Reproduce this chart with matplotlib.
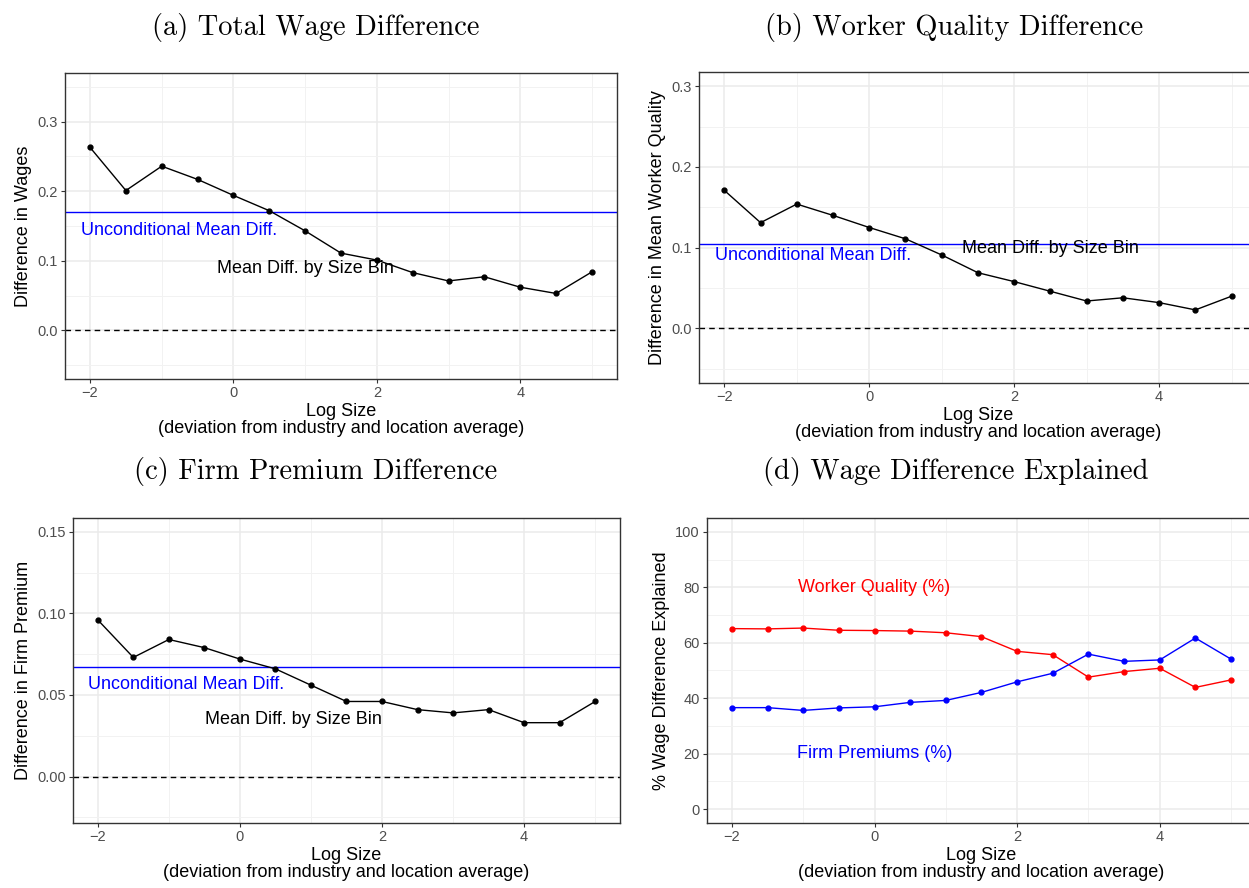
import matplotlib
matplotlib.use("Agg")
import matplotlib.pyplot as plt

plt.rcParams['font.family'] = ['Liberation Sans', 'DejaVu Sans']

# log size bins
log_size = [-2, -1.5, -1, -0.5, 0, 0.5, 1, 1.5, 2, 2.5, 3, 3.5, 4, 4.5, 5]

# (a) total wage difference
wage_diff = [0.263, 0.201, 0.236, 0.217, 0.194, 0.172, 0.143, 0.111, 0.101,
             0.083, 0.071, 0.077, 0.062, 0.053, 0.084]
wage_uncond = 0.170

# (b) worker quality difference
quality_diff = [0.171, 0.131, 0.154, 0.140, 0.125, 0.111, 0.091, 0.069, 0.058,
                0.046, 0.034, 0.038, 0.032, 0.023, 0.040]
quality_uncond = 0.105

# (c) firm premium difference
premium_diff = [0.096, 0.073, 0.084, 0.079, 0.072, 0.066, 0.056, 0.046, 0.046,
                0.041, 0.039, 0.041, 0.033, 0.033, 0.046]
premium_uncond = 0.067

# (d) share of wage difference explained
quality_pct = [65.1, 65.0, 65.3, 64.5, 64.4, 64.2, 63.6, 62.2, 56.9, 55.7,
               47.6, 49.6, 50.8, 43.9, 46.6]
premium_pct = [36.6, 36.6, 35.6, 36.5, 36.9, 38.5, 39.2, 42.1, 45.9, 49.0,
               55.9, 53.3, 53.8, 61.7, 54.1]

xlabel = "Log Size\n(deviation from industry and location average)"
title_font = dict(family='cmr10', fontsize=20.5)

fig = plt.figure(figsize=(12.49, 8.88), dpi=100)


def style_axes(ax, ylim, yticks, yminor, ytick_fmt):
    ax.set_xlim(-2.35, 5.35)
    ax.set_ylim(*ylim)
    ax.set_xticks([-2, 0, 2, 4])
    ax.set_xticks([-1, 1, 3, 5], minor=True)
    ax.set_yticks(yticks)
    ax.set_yticklabels([ytick_fmt.format(v) for v in yticks])
    ax.set_yticks(yminor, minor=True)
    ax.grid(which='major', color='#EBEBEB', linewidth=1.1, zorder=0)
    ax.grid(which='minor', color='#F2F2F2', linewidth=0.7, zorder=0)
    ax.set_axisbelow(True)
    for s in ax.spines.values():
        s.set_color('#333333')
        s.set_linewidth(1.0)
    ax.tick_params(which='major', length=3, width=0.8, color='#333333',
                   labelcolor='#4D4D4D', labelsize=10.5, pad=2)
    ax.tick_params(which='minor', length=0)
    ax.set_xlabel(xlabel, fontsize=13, linespacing=1.05, labelpad=2)


def diff_panel(rect, title_xy, title, y, uncond, ylabel, ylim, yticks, yminor,
               fmt, uncond_txt, bin_txt):
    ax = fig.add_axes(rect)
    style_axes(ax, ylim, yticks, yminor, fmt)
    ax.axhline(0, color='black', linestyle=(0, (4, 3)), linewidth=1.0)
    ax.axhline(uncond, color='blue', linewidth=1.0)
    ax.plot(log_size, y, color='black', linewidth=1.0, marker='o',
            markersize=3.5, zorder=3)
    ax.text(*uncond_txt, "Unconditional Mean Diff.", color='blue',
            fontsize=13, ha='center', va='center')
    ax.text(*bin_txt, "Mean Diff. by Size Bin", color='black',
            fontsize=13, ha='center', va='center')
    ax.set_ylabel(ylabel, fontsize=13, labelpad=4)
    fig.text(title_xy[0] / 1249, 1 - title_xy[1] / 888, title,
             ha='center', va='center', **title_font)
    return ax


diff_panel([0.0520, 0.5732, 0.4420, 0.3446], (316, 28),
           "(a) Total Wage Difference", wage_diff, wage_uncond,
           "Difference in Wages", (-0.07, 0.37),
           [0.0, 0.1, 0.2, 0.3], [-0.05, 0.05, 0.15, 0.25, 0.35], "{:.1f}",
           (-0.76, 0.144), (1.0, 0.089))

diff_panel([0.5596, 0.5687, 0.4468, 0.3502], (954, 28),
           "(b) Worker Quality Difference", quality_diff, quality_uncond,
           "Difference in Mean Worker Quality", (-0.0675, 0.3175),
           [0.0, 0.1, 0.2, 0.3], [-0.05, 0.05, 0.15, 0.25], "{:.1f}",
           (-0.77, 0.09), (2.5, 0.099))

diff_panel([0.0584, 0.0732, 0.4380, 0.3435], (316, 471),
           "(c) Firm Premium Difference", premium_diff, premium_uncond,
           "Difference in Firm Premium", (-0.0285, 0.1585),
           [0.0, 0.05, 0.10, 0.15], [-0.025, 0.025, 0.075, 0.125], "{:.2f}",
           (-0.76, 0.0567), (0.75, 0.0348))

# (d) decomposition
ax = fig.add_axes([0.5660, 0.0732, 0.4396, 0.3435])
style_axes(ax, (-5, 105), [0, 20, 40, 60, 80, 100], [10, 30, 50, 70, 90],
           "{:.0f}")
ax.plot(log_size, quality_pct, color='red', linewidth=1.0, marker='o',
        markersize=3.5, zorder=3)
ax.plot(log_size, premium_pct, color='blue', linewidth=1.0, marker='o',
        markersize=3.5, zorder=3)
ax.text(0, 80, "Worker Quality (%)", color='red', fontsize=13,
        ha='center', va='center')
ax.text(0, 20, "Firm Premiums (%)", color='blue', fontsize=13,
        ha='center', va='center')
ax.set_ylabel("% Wage Difference Explained", fontsize=13, labelpad=4)
fig.text(956 / 1249, 1 - 471 / 888, "(d) Wage Difference Explained",
         ha='center', va='center', **title_font)

fig.savefig("out.png", dpi=100)
